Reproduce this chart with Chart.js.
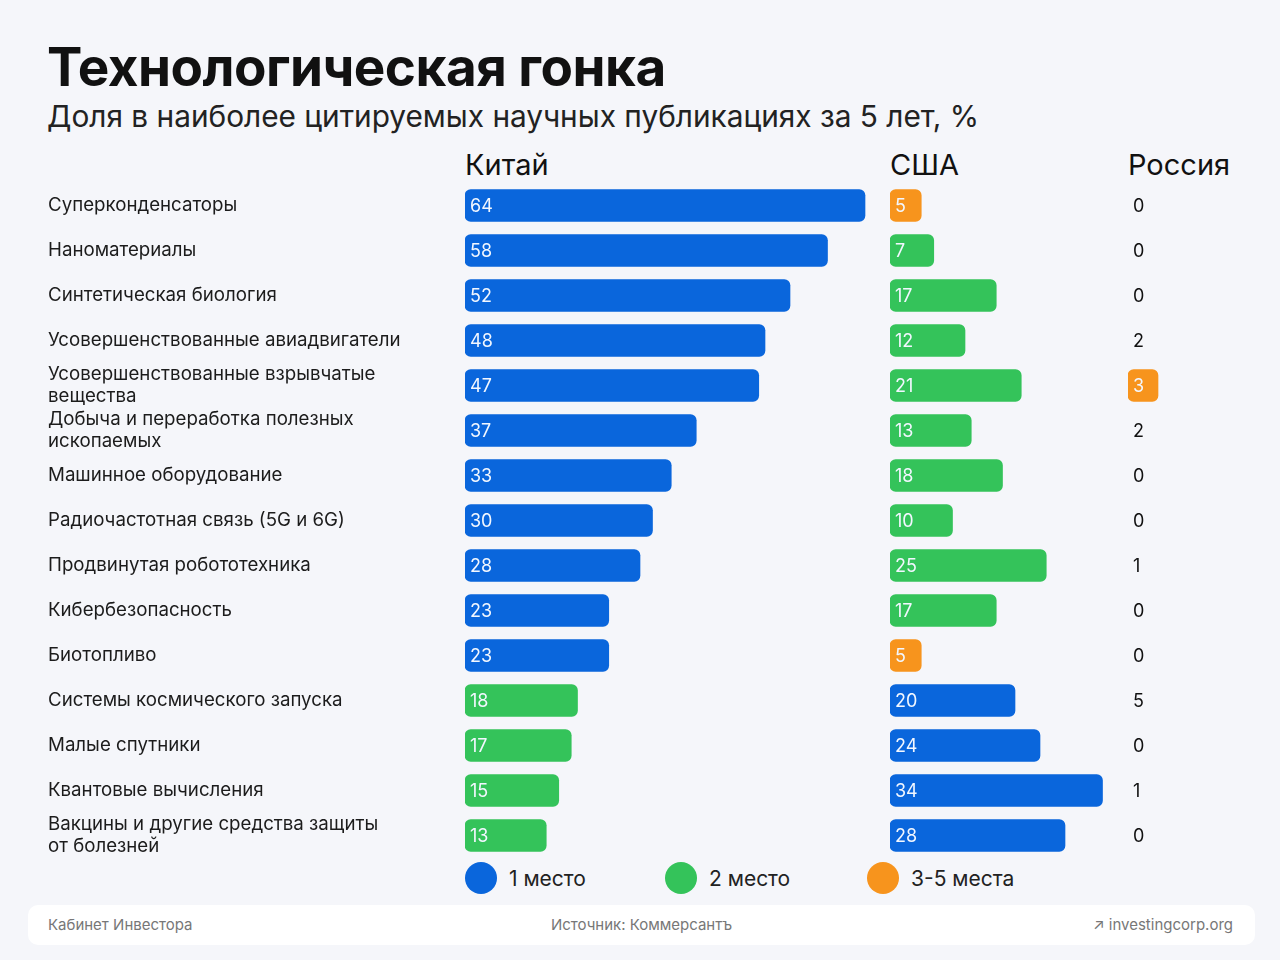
<!DOCTYPE html>
<html>
<head>
<meta charset="utf-8">
<script src="https://cdn.jsdelivr.net/npm/chart.js@4.4.1/dist/chart.umd.min.js"></script>
<style>
  body { margin: 0; background: #f5f6fa; font-family: Inter, "Noto Sans", sans-serif; color: #111; }
  #page { position: relative; width: 1280px; height: 960px; overflow: hidden; }
  .abs { position: absolute; white-space: nowrap; line-height: 1; }
  #title { left: 47px; top: 41px; font-size: 53px; font-weight: 700; letter-spacing: -0.5px; }
  #subtitle { left: 47px; top: 102px; font-size: 29.8px; color: #222; }
  .colhead { top: 150px; font-size: 29px; }
  canvas { position: absolute; top: 183px; }
  .leg { position: absolute; top: 862px; height: 32px; display: flex; align-items: center; font-size: 21px; color: #222; }
  .leg span.dot { width: 32px; height: 32px; border-radius: 50%; margin-right: 12px; display: inline-block; }
  #footer { position: absolute; left: 28px; top: 905px; width: 1227px; height: 40px; background: #fff; border-radius: 10px; font-size: 15px; color: #777; }
  #footer div { position: absolute; top: 12px; line-height: 1; }
</style>
</head>
<body>
<div id="page">
  <div id="title" class="abs">Технологическая гонка</div>
  <div id="subtitle" class="abs">Доля в наиболее цитируемых научных публикациях за 5 лет, %</div>
  <div class="abs colhead" style="left:465px">Китай</div>
  <div class="abs colhead" style="left:890px">США</div>
  <div class="abs colhead" style="left:1128px">Россия</div>

  <canvas id="chinaChart" width="822" height="675" style="left:48px"></canvas>
  <canvas id="usaChart" width="230" height="675" style="left:890px"></canvas>
  <canvas id="russiaChart" width="100" height="675" style="left:1128px"></canvas>

  <div class="leg" style="left:465px"><span class="dot" style="background:#0a66dc"></span>1 место</div>
  <div class="leg" style="left:665px"><span class="dot" style="background:#34c35a"></span>2 место</div>
  <div class="leg" style="left:867px"><span class="dot" style="background:#f7941d"></span>3-5 места</div>

  <div id="footer">
    <div style="left:20px">Кабинет Инвестора</div>
    <div style="left:0;width:1227px;text-align:center">Источник: Коммерсантъ</div>
    <div style="right:22px">↗ investingcorp.org</div>
  </div>
</div>

<script>
// data
const categories = [
  "Суперконденсаторы",
  "Наноматериалы",
  "Синтетическая биология",
  "Усовершенствованные авиадвигатели",
  "Усовершенствованные взрывчатые\nвещества",
  "Добыча и переработка полезных\nископаемых",
  "Машинное оборудование",
  "Радиочастотная связь (5G и 6G)",
  "Продвинутая робототехника",
  "Кибербезопасность",
  "Биотопливо",
  "Системы космического запуска",
  "Малые спутники",
  "Квантовые вычисления",
  "Вакцины и другие средства защиты\nот болезней"
];
const china = [64, 58, 52, 48, 47, 37, 33, 30, 28, 23, 23, 18, 17, 15, 13];
const chinaRank = [1, 1, 1, 1, 1, 1, 1, 1, 1, 1, 1, 2, 2, 2, 2];
const usa = [5, 7, 17, 12, 21, 13, 18, 10, 25, 17, 5, 20, 24, 34, 28];
const usaRank = [3, 2, 2, 2, 2, 2, 2, 2, 2, 2, 3, 1, 1, 1, 1];
const russia = [0, 0, 0, 2, 3, 2, 0, 0, 1, 0, 0, 5, 0, 1, 0];
const russiaRank = [0, 0, 0, 0, 3, 0, 0, 0, 0, 0, 0, 0, 0, 0, 0];

const rankColors = { 0: "rgba(0,0,0,0)", 1: "#0a66dc", 2: "#34c35a", 3: "#f7941d" };

Chart.defaults.font.family = "Inter, 'Noto Sans', sans-serif";

// write the value at the left end of each bar
const valueLabels = {
  id: "valueLabels",
  afterDatasetsDraw(chart) {
    const ctx = chart.ctx;
    const ds = chart.data.datasets[0];
    const meta = chart.getDatasetMeta(0);
    ctx.save();
    ctx.font = "18px Inter, 'Noto Sans', sans-serif";
    ctx.textBaseline = "middle";
    ctx.textAlign = "left";
    meta.data.forEach((bar, i) => {
      ctx.fillStyle = ds.ranks[i] ? "#f2f7ff" : "#111";
      ctx.fillText(ds.data[i], bar.base + 5, bar.y + 1);
    });
    ctx.restore();
  }
};

function makeChart(id, values, ranks, max, withLabels) {
  return new Chart(document.getElementById(id), {
    type: "bar",
    data: {
      labels: categories.map((c) => c.split("\n")),
      datasets: [{
        data: values,
        ranks: ranks,
        backgroundColor: ranks.map((r) => rankColors[r]),
        borderRadius: 6,
        borderSkipped: false,
        barThickness: 32
      }]
    },
    options: {
      indexAxis: "y",
      responsive: false,
      animation: false,
      layout: { padding: 0 },
      plugins: { legend: { display: false }, tooltip: { enabled: false } },
      scales: {
        x: { display: false, min: 0, max: max },
        y: {
          display: withLabels,
          grid: { display: false },
          border: { display: false },
          ticks: {
            autoSkip: false,
            crossAlign: "far",
            color: "#1c1c1c",
            font: { size: 18.7, lineHeight: 1.17 }
          },
          afterFit: (scale) => {
            if (!withLabels) return;
            scale.width = 417;
            scale.paddingTop = 0;
            scale.paddingBottom = 0;
          }
        }
      }
    },
    plugins: [valueLabels]
  });
}

// 6.25 px per percentage point in China/USA columns
makeChart("chinaChart", china, chinaRank, 405 / 6.25, true);
makeChart("usaChart", usa, usaRank, 230 / 6.25, false);
makeChart("russiaChart", russia, russiaRank, 10, false);
</script>
</body>
</html>
